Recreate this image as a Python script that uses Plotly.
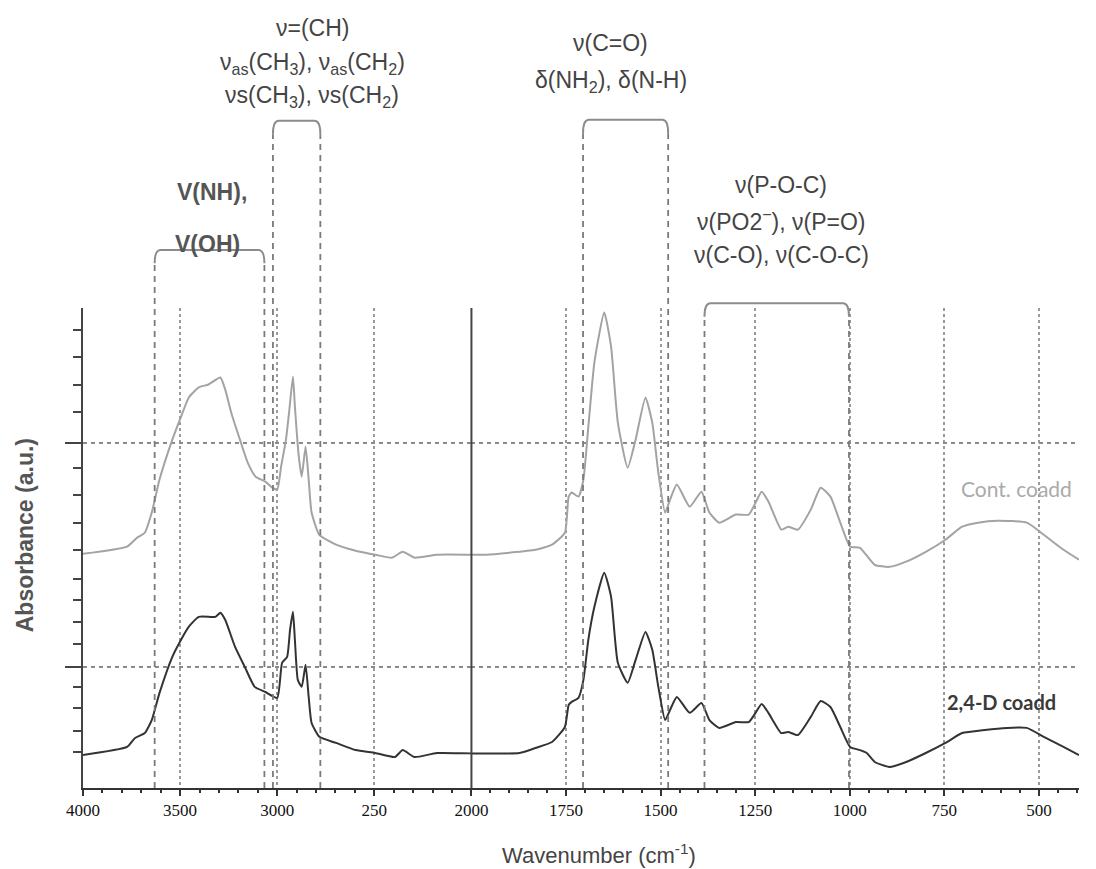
import plotly.graph_objects as go

# ---------------- data ----------------
cont_wn = [4000, 3773, 3722, 3682, 3646, 3606, 3540, 3495, 3455, 3404, 3354, 3293, 3268, 3237,
           3192, 3152, 3111, 3061, 3025, 3000, 2980, 2955, 2939, 2919, 2909, 2889, 2874, 2854,
           2838, 2823, 2783, 2697, 2596, 2495, 2409, 2354, 2293, 2177, 2000, 1961, 1831, 1787,
           1753, 1743, 1735, 1717, 1704, 1691, 1675, 1649, 1631, 1613, 1587, 1566, 1540, 1522,
           1506, 1488, 1475, 1457, 1423, 1392, 1371, 1345, 1301, 1267, 1249, 1233, 1215, 1181,
           1163, 1137, 1103, 1077, 1051, 1025, 999, 973, 934, 895, 851, 799, 747, 703, 661, 610,
           532, 487, 435, 394]
cont_abs = [1.504, 1.536, 1.576, 1.598, 1.688, 1.835, 2.013, 2.116, 2.201, 2.246, 2.259, 2.290,
            2.237, 2.134, 2.013, 1.911, 1.848, 1.826, 1.799, 1.790, 1.893, 2.013, 2.134, 2.295,
            2.161, 1.938, 1.848, 1.982, 1.835, 1.688, 1.589, 1.545, 1.518, 1.500, 1.487, 1.513,
            1.487, 1.500, 1.500, 1.500, 1.522, 1.545,
            1.598, 1.759, 1.777, 1.759, 1.835, 2.071, 2.357, 2.580, 2.429, 2.089, 1.888, 2.013,
            2.201, 2.089, 1.866, 1.688, 1.746, 1.813, 1.714, 1.781, 1.688, 1.643, 1.679, 1.679,
            1.732, 1.781, 1.737, 1.612, 1.625, 1.612, 1.701, 1.799, 1.759, 1.643, 1.536, 1.531,
            1.455, 1.446, 1.469, 1.513, 1.567, 1.625, 1.643, 1.652, 1.643, 1.589, 1.522, 1.478]

d24_wn = [4000, 3773, 3732, 3682, 3646, 3606, 3540, 3495, 3455, 3404, 3318, 3293, 3268, 3217,
          3167, 3116, 3061, 3000, 2975, 2949, 2934, 2919, 2909, 2894, 2874, 2854, 2838, 2823,
          2783, 2697, 2596, 2495, 2394, 2354, 2293, 2177, 1873, 1831, 1787,
          1753, 1743, 1735, 1717, 1704, 1691, 1675, 1649, 1631, 1613, 1587, 1566, 1540, 1522,
          1506, 1488, 1475, 1457, 1423, 1392, 1371, 1345, 1301, 1267, 1249, 1233, 1215, 1181,
          1163, 1137, 1103, 1077, 1051, 1025, 999, 973, 955, 934, 895, 851, 799, 747, 703, 643,
          584, 532, 487, 435, 394]
d24_abs = [0.607, 0.643, 0.683, 0.705, 0.763, 0.884, 1.045, 1.121, 1.179, 1.223, 1.223, 1.241,
           1.210, 1.089, 1.000, 0.911, 0.888, 0.862, 1.018, 1.045, 1.165, 1.246, 1.121, 0.942,
           0.911, 1.009, 0.866, 0.750, 0.688, 0.661, 0.629, 0.616, 0.598, 0.629, 0.598, 0.616,
           0.616, 0.638, 0.665,
           0.732, 0.830, 0.844, 0.862, 0.942, 1.121, 1.268, 1.420, 1.313, 1.018, 0.929, 1.031,
           1.156, 1.076, 0.911, 0.763, 0.808, 0.866, 0.795, 0.839, 0.763, 0.728, 0.754, 0.754,
           0.795, 0.835, 0.795, 0.705, 0.710, 0.696, 0.777, 0.848, 0.821, 0.732, 0.643, 0.629,
           0.616, 0.576, 0.554, 0.576, 0.616, 0.661, 0.705, 0.719, 0.728, 0.728, 0.688, 0.643,
           0.607]

left_ticks = [4000, 3500, 3000, 2500, 2000]
left_ticktext = ["4000", "3500", "3000", "250", "2000"]
right_ticks = [1750, 1500, 1250, 1000, 750, 500]
right_ticktext = ["1750", "1500", "1250", "1000", "750", "500"]

# band assignments: (high wavenumber, low wavenumber, axis)
band_hi = [3631, 3022, 1705, 1384]
band_lo = [3066, 2778, 1480, 1002]
band_axis = ["x", "x", "x2", "x2"]
band_top = [1.121, 1.390, 1.392, 1.010]   # bracket height (paper units)

# ---------------- figure ----------------
GRAY = "#a3a3a3"
DARK = "#333333"
fig = go.Figure()
for ax in ["x", "x2"]:
    fig.add_trace(go.Scatter(x=cont_wn, y=cont_abs, mode="lines", xaxis=ax, yaxis="y",
                             line=dict(color=GRAY, width=2, shape="spline", smoothing=0.5),
                             hoverinfo="skip", showlegend=False))
    fig.add_trace(go.Scatter(x=d24_wn, y=d24_abs, mode="lines", xaxis=ax, yaxis="y",
                             line=dict(color=DARK, width=2, shape="spline", smoothing=0.5),
                             hoverinfo="skip", showlegend=False))

SPLIT = 0.390
tickfont = dict(family="Liberation Serif, Times New Roman, serif", size=17, color="#111")
common_x = dict(ticks="outside", ticklen=6, tickwidth=2, tickcolor="#333",
                showline=True, linecolor="#333", linewidth=2, zeroline=False,
                showgrid=True, gridcolor="#9a9a9a", griddash="dot", gridwidth=1.5,
                tickfont=tickfont, anchor="y", tickmode="array")
fig.update_layout(
    width=1088, height=861,
    margin=dict(l=75, r=0, t=300, b=81),
    paper_bgcolor="white", plot_bgcolor="white",
    showlegend=False,
    xaxis=dict(domain=[0, SPLIT], range=[4000, 2000], tickvals=left_ticks, ticktext=left_ticktext,
               minor=dict(dtick=100, tick0=0, ticklen=3, tickwidth=1.5, tickcolor="#333",
                          ticks="outside", showgrid=False), **common_x),
    xaxis2=dict(domain=[SPLIT, 1], range=[2000, 394], tickvals=right_ticks, ticktext=right_ticktext,
                minor=dict(dtick=50, tick0=0, ticklen=3, tickwidth=1.5, tickcolor="#333",
                           ticks="outside", showgrid=False), **common_x),
    yaxis=dict(domain=[0, 1], range=[0.46, 2.60], tickmode="array", tickvals=[1, 2],
               showticklabels=False, ticks="outside", ticklen=16, tickwidth=2, tickcolor="#444",
               minor=dict(tickmode="array",
                          tickvals=[0.62, 0.715, 0.815, 0.91, 1.1, 1.2, 1.3, 1.39, 1.52, 1.64,
                                    1.765, 1.885, 2.135, 2.255, 2.38, 2.5],
                          ticklen=8, tickwidth=2, tickcolor="#444", ticks="outside", showgrid=False),
               showline=True, linecolor="#444", linewidth=2, zeroline=False,
               showgrid=True, gridcolor="#8a8a8a", griddash="4px,4px", gridwidth=1.5,
               anchor="x"),
)

shapes = []
# solid axis-break line at 2000
shapes.append(dict(type="line", xref="paper", yref="paper", x0=SPLIT, x1=SPLIT, y0=0, y1=1,
                   line=dict(color="#444", width=2)))
# band brackets
for hi, lo, ax, top in zip(band_hi, band_lo, band_axis, band_top):
    px_unit = 0.1975 if ax == "x" else 0.3848
    dx = 6 / px_unit
    yb = top - 0.028
    path = (f"M {hi},{yb} Q {hi},{top} {hi - dx},{top} L {lo + dx},{top} "
            f"Q {lo},{top} {lo},{yb}")
    shapes.append(dict(type="path", xref=ax, yref="paper", path=path,
                       line=dict(color="#8c8c8c", width=2)))
    for xv in (hi, lo):
        shapes.append(dict(type="line", xref=ax, yref="paper", x0=xv, x1=xv, y0=0, y1=yb,
                           line=dict(color="#7a7a7a", width=1.8, dash="6px,5px")))
fig.update_layout(shapes=shapes)

TXT = "#444"
sans = "Liberation Sans, Arial, sans-serif"
ann = []


def A(text, x, y, size=23, color=TXT, family=sans, bold=False, angle=0):
    ann.append(dict(text=text, x=x, y=y, xref="paper", yref="paper", showarrow=False,
                    xanchor="center", yanchor="middle", textangle=angle,
                    font=dict(family=family, size=size, color=color,
                              weight="bold" if bold else "normal")))


A("ν=(CH)", 0.230, 1.583)
A("ν<sub>as</sub>(CH<sub>3</sub>), ν<sub>as</sub>(CH<sub>2</sub>)", 0.230, 1.510)
A("νs(CH<sub>3</sub>), νs(CH<sub>2</sub>)", 0.230, 1.440)
A("V(NH),", 0.130, 1.242, size=23, color="#555", bold=True)
A("V(OH)", 0.125, 1.133, size=23, color="#555", bold=True)
A("ν(C=O)", 0.530, 1.552)
A("δ(NH<sub>2</sub>), δ(N-H)", 0.530, 1.471)
A("ν(P-O-C)", 0.701, 1.256)
A("ν(PO2<sup>−</sup>), ν(P=O)", 0.701, 1.183)
A("ν(C-O), ν(C-O-C)", 0.701, 1.110)
A("Cont. coadd", 0.937, 0.625, size=21, color="#aaaaaa", family="Lato")
A("2,4-D coadd", 0.922, 0.179, size=20, color="#3a3a3a", family="Lato", bold=True)
A("Absorbance (a.u.)", -0.058, 0.527, size=23, color="#555", bold=True, angle=-90)
A("Wavenumber (cm<sup>-1</sup>)", 0.518, -0.138, size=22, color="#444")
fig.update_layout(annotations=ann)

fig.write_html("out.html")
